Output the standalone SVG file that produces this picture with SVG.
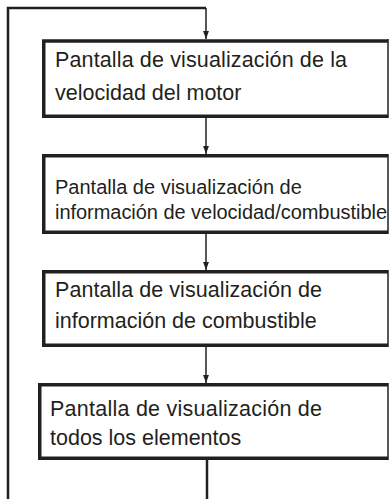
<svg xmlns="http://www.w3.org/2000/svg" width="389" height="499" viewBox="0 0 389 499">
<style>
.box{fill:#fff;stroke:none}
.thick{fill:none;stroke:#231f20;stroke-width:3.5}
.thin{fill:none;stroke:#231f20;stroke-width:1.5}
.t{font-family:"Liberation Sans",Arial,sans-serif;fill:#231f20}
.c{fill:none;stroke:#231f20;stroke-width:1.5}
.cw{fill:none;stroke:#231f20;stroke-width:2.5}
</style>
<defs>
<marker id="ah" markerWidth="8" markerHeight="11" refX="4" refY="11" orient="auto-start-reverse" markerUnits="userSpaceOnUse" viewBox="0 0 8 11">
<path d="M0,0 L8,0 L4,11 Z" fill="#231f20" transform="rotate(-90 4 5.5) translate(0 0)"/>
</marker>
<marker id="arr" markerWidth="8" markerHeight="11" refX="11" refY="4" orient="auto" markerUnits="userSpaceOnUse" viewBox="0 0 11 8">
<path d="M0,0 L11,4 L0,8 Z" fill="#231f20"/>
</marker>
</defs>
<g id="connectors">
<path class="cw" d="M8,499 V8 H206"/>
<path class="c" d="M206,8 V39" marker-end="url(#arr)"/>
<path class="c" d="M206,118 V154" marker-end="url(#arr)"/>
<path class="c" d="M206,234 V270" marker-end="url(#arr)"/>
<path class="c" d="M206,347 V383" marker-end="url(#arr)"/>
<path class="cw" d="M207,460 V499"/>
</g>
<g id="n1">
<rect class="box" x="43" y="41" width="345" height="76"/>
<path class="thick" d="M388,41 H43.75 V116.25 H388"/>
<path class="thin" d="M388,39 V118"/>
<text class="t" font-size="21.5" x="55" y="67" textLength="292">Pantalla de visualización de la</text>
<text class="t" font-size="21.5" x="55" y="100">velocidad del motor</text>
</g>
<g id="n2">
<rect class="box" x="43" y="156" width="345" height="77"/>
<path class="thick" d="M388,155.75 H43.75 V232.25 H388"/>
<path class="thin" d="M388,154 V234"/>
<text class="t" font-size="20" x="55" y="194">Pantalla de visualización de</text>
<text class="t" font-size="20" x="55" y="219" textLength="332">información de velocidad/combustible</text>
</g>
<g id="n3">
<rect class="box" x="43" y="272" width="345" height="74"/>
<path class="thick" d="M388,271.75 H43.75 V345.25 H388"/>
<path class="thin" d="M388,270 V347"/>
<text class="t" font-size="21.5" x="55" y="297" textLength="267">Pantalla de visualización de</text>
<text class="t" font-size="21.5" x="55" y="328">información de combustible</text>
</g>
<g id="n4">
<rect class="box" x="39" y="385" width="349" height="74"/>
<path class="thick" d="M388,384.75 H39.75 V458.25 H388"/>
<path class="thin" d="M388,383 V460"/>
<text class="t" font-size="21.5" x="50" y="416" textLength="272">Pantalla de visualización de</text>
<text class="t" font-size="21.5" x="50" y="445">todos los elementos</text>
</g>
</svg>
